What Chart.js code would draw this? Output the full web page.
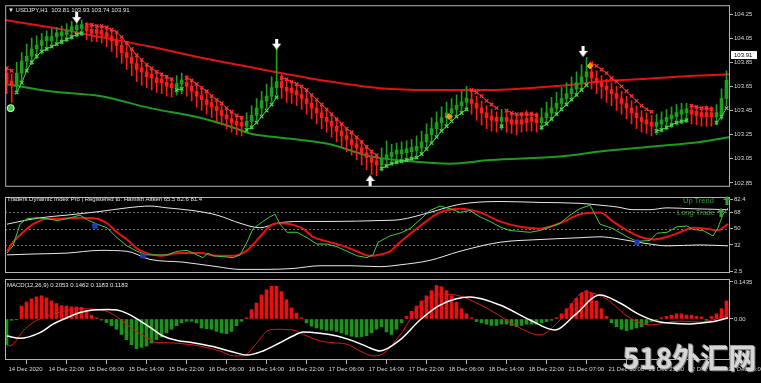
<!DOCTYPE html>
<html>
<head>
<meta charset="utf-8">
<script src="https://cdn.jsdelivr.net/npm/chart.js@4.4.1/dist/chart.umd.min.js"></script>
<style>
    body { margin: 0; width: 761px; height: 383px; background: #000; overflow: hidden; position: relative; font-family: "Liberation Sans", Arial, sans-serif; }
    canvas { position: absolute; left: 0; display: block; }
    .ttl { position: absolute; color: #e6e6e6; font-size: 6px; white-space: pre; line-height: 1; }
    .sig { position: absolute; color: #3a9a3a; font-size: 7.5px; white-space: pre; line-height: 1; }
    .sig svg { position: absolute; left: 40px; top: -1px; }
    .mark { position: absolute; left: 623px; top: 343px; font-family: "Noto Sans CJK SC", sans-serif; font-weight: bold; font-size: 28px; color: #d6d6d6; text-shadow: 1px 1px 0 #777, -1px -1px 0 #999; white-space: pre; line-height: 1; }
</style>
</head>
<body>
<canvas id="priceChart" width="761" height="192" style="top:0"></canvas>
<canvas id="tdiChart" width="761" height="86" style="top:192px"></canvas>
<canvas id="macdChart" width="761" height="105" style="top:278px"></canvas>

<div class="ttl" style="left:8px;top:7px">▼ USDJPY,H1  103.81 103.93 103.74 103.91</div>
<div class="ttl" style="left:7px;top:196px">Traders Dynamic Index Pro | Registered to: Hamish Aitken 65.5 82.6 81.4</div>
<div class="ttl" style="left:7px;top:282px">MACD(12,26,9) 0.2053 0.1462 0.1183 0.1183</div>
<div class="sig" style="left:683px;top:197px">Up Trend<svg width="8" height="9" viewBox="0 0 8 9"><path d="M4 0 L8 4 L5.5 4 L5.5 9 L2.5 9 L2.5 4 L0 4 Z" fill="#3a9a3a"/></svg></div>
<div class="sig" style="left:677px;top:209px">Long Trade<svg width="8" height="9" viewBox="0 0 8 9" style="left:40px"><path d="M4 0 L8 4 L5.5 4 L5.5 9 L2.5 9 L2.5 4 L0 4 Z" fill="#3a9a3a"/></svg></div>
<div class="mark">518外汇网</div>

<script>
// one x label every 8 hourly bars
const xTickLabels = ['14 Dec 2020', '14 Dec 22:00', '15 Dec 06:00', '15 Dec 14:00', '15 Dec 22:00',
    '16 Dec 06:00', '16 Dec 14:00', '16 Dec 22:00', '17 Dec 06:00', '17 Dec 14:00', '17 Dec 22:00',
    '18 Dec 06:00', '18 Dec 14:00', '18 Dec 22:00', '21 Dec 07:00', '21 Dec 15:00', '21 Dec 23:00',
    '22 Dec 07:00', '22 Dec 15:00'];
const barsPerLabel = 8;

const priceTicks = [102.85, 103.05, 103.25, 103.45, 103.65, 103.85, 104.05, 104.25];
const tdiTicks = [2.5, 32, 50, 68, 82.4];
const tdiLevels = [32, 50, 68];
const macdTicks = [0, 0.1435];
const lastPrice = 103.91;

// USDJPY H1 candles
const firstOpen = 103.76;
const closes = [
    103.68, 103.66, 103.76, 103.86, 103.90, 103.96, 103.99, 104.03, 104.03, 104.06,
    104.07, 104.08, 104.11, 104.12, 104.14, 104.13, 104.11, 104.09, 104.10, 104.08,
    104.06, 104.03, 103.99, 103.93, 103.89, 103.84, 103.79, 103.77, 103.73, 103.72,
    103.68, 103.68, 103.65, 103.64, 103.67, 103.68, 103.65, 103.61, 103.57, 103.54,
    103.50, 103.48, 103.45, 103.41, 103.38, 103.35, 103.33, 103.32, 103.36, 103.41,
    103.47, 103.53, 103.57, 103.64, 103.69, 103.64, 103.61, 103.60, 103.58, 103.55,
    103.51, 103.47, 103.43, 103.39, 103.36, 103.32, 103.28, 103.24, 103.21, 103.17,
    103.14, 103.10, 103.06, 103.02, 103.00, 103.05, 103.07, 103.09, 103.09, 103.10,
    103.11, 103.12, 103.14, 103.19, 103.25, 103.30, 103.35, 103.39, 103.43, 103.46,
    103.49, 103.52, 103.54, 103.51, 103.47, 103.43, 103.39, 103.37, 103.36, 103.38,
    103.36, 103.34, 103.34, 103.35, 103.37, 103.36, 103.35, 103.39, 103.43, 103.47,
    103.51, 103.55, 103.59, 103.63, 103.68, 103.73, 103.77, 103.72, 103.68, 103.65,
    103.62, 103.59, 103.55, 103.51, 103.47, 103.43, 103.39, 103.36, 103.34, 103.32,
    103.34, 103.36, 103.38, 103.40, 103.42, 103.43, 103.43, 103.42, 103.41, 103.40,
    103.41, 103.40, 103.41, 103.55, 103.70
];
const highs = [
    103.81, 103.75, 103.85, 103.93, 104.00, 104.05, 104.07, 104.09, 104.11, 104.13,
    104.14, 104.15, 104.17, 104.19, 104.20, 104.20, 104.18, 104.17, 104.16, 104.15,
    104.14, 104.12, 104.09, 104.04, 104.00, 103.95, 103.90, 103.87, 103.83, 103.80,
    103.78, 103.76, 103.74, 103.72, 103.74, 103.76, 103.74, 103.70, 103.66, 103.63,
    103.60, 103.57, 103.54, 103.51, 103.47, 103.44, 103.41, 103.40, 103.43, 103.49,
    103.55, 103.61, 103.67, 103.73, 103.96, 103.75, 103.71, 103.69, 103.67, 103.64,
    103.61, 103.57, 103.53, 103.49, 103.45, 103.41, 103.38, 103.34, 103.30, 103.27,
    103.23, 103.20, 103.16, 103.12, 103.09, 103.14, 103.20, 103.17, 103.18, 103.19,
    103.20, 103.21, 103.24, 103.28, 103.34, 103.39, 103.44, 103.48, 103.52, 103.55,
    103.58, 103.61, 103.65, 103.61, 103.57, 103.53, 103.49, 103.46, 103.44, 103.46,
    103.44, 103.43, 103.42, 103.43, 103.45, 103.44, 103.43, 103.47, 103.52, 103.56,
    103.60, 103.64, 103.68, 103.73, 103.77, 103.83, 103.89, 103.83, 103.78, 103.74,
    103.71, 103.68, 103.65, 103.61, 103.57, 103.53, 103.49, 103.45, 103.43, 103.41,
    103.42, 103.44, 103.46, 103.48, 103.50, 103.51, 103.51, 103.50, 103.49, 103.48,
    103.49, 103.48, 103.50, 103.63, 103.78
];
const lows = [
    103.59, 103.52, 103.61, 103.69, 103.79, 103.83, 103.88, 103.92, 103.95, 103.97,
    103.99, 104.00, 104.02, 104.04, 104.06, 104.07, 104.04, 104.02, 104.02, 104.01,
    103.98, 103.94, 103.89, 103.84, 103.79, 103.74, 103.69, 103.66, 103.64, 103.62,
    103.60, 103.59, 103.57, 103.56, 103.58, 103.59, 103.57, 103.53, 103.48, 103.45,
    103.42, 103.39, 103.36, 103.33, 103.30, 103.27, 103.25, 103.24, 103.27, 103.30,
    103.35, 103.41, 103.47, 103.52, 103.58, 103.55, 103.52, 103.51, 103.49, 103.46,
    103.42, 103.38, 103.34, 103.30, 103.27, 103.23, 103.19, 103.15, 103.11, 103.08,
    103.04, 103.00, 102.96, 102.92, 102.91, 102.95, 102.98, 103.00, 103.01, 103.02,
    103.03, 103.04, 103.05, 103.09, 103.14, 103.19, 103.24, 103.29, 103.33, 103.37,
    103.40, 103.43, 103.45, 103.42, 103.37, 103.33, 103.30, 103.28, 103.27, 103.29,
    103.27, 103.26, 103.25, 103.27, 103.28, 103.28, 103.27, 103.29, 103.33, 103.37,
    103.41, 103.45, 103.49, 103.53, 103.57, 103.62, 103.67, 103.63, 103.59, 103.55,
    103.52, 103.49, 103.45, 103.42, 103.38, 103.34, 103.30, 103.27, 103.26, 103.24,
    103.25, 103.27, 103.29, 103.31, 103.33, 103.34, 103.35, 103.34, 103.33, 103.32,
    103.32, 103.32, 103.33, 103.37, 103.49
];
// trailing stop line with the cross markers (below price in up legs, above in down legs)
const trail = [
    103.80, 103.78, 103.60, 103.68, 103.78, 103.85, 103.90, 103.94, 103.96, 103.98,
    104.00, 104.02, 104.04, 104.06, 104.08, 104.09, 104.16, 104.16, 104.15, 104.15,
    104.14, 104.12, 104.10, 104.06, 104.01, 103.96, 103.91, 103.87, 103.83, 103.80,
    103.77, 103.75, 103.73, 103.71, 103.62, 103.63, 103.72, 103.70, 103.67, 103.64,
    103.61, 103.57, 103.54, 103.51, 103.47, 103.44, 103.41, 103.39, 103.29, 103.31,
    103.35, 103.40, 103.45, 103.50, 103.56, 103.72, 103.71, 103.69, 103.67, 103.65,
    103.62, 103.58, 103.54, 103.50, 103.46, 103.42, 103.38, 103.34, 103.30, 103.27,
    103.23, 103.19, 103.15, 103.11, 103.08, 102.97, 102.99, 103.01, 103.02, 103.03,
    103.04, 103.05, 103.06, 103.09, 103.13, 103.18, 103.23, 103.28, 103.32, 103.36,
    103.40, 103.43, 103.46, 103.62, 103.60, 103.57, 103.53, 103.50, 103.47, 103.32,
    103.45, 103.43, 103.42, 103.42, 103.42, 103.42, 103.41, 103.31, 103.34, 103.38,
    103.42, 103.46, 103.50, 103.54, 103.58, 103.62, 103.66, 103.84, 103.82, 103.79,
    103.76, 103.72, 103.69, 103.65, 103.61, 103.57, 103.53, 103.49, 103.46, 103.44,
    103.28, 103.29, 103.31, 103.33, 103.35, 103.36, 103.37, 103.49, 103.48, 103.47,
    103.47, 103.46, 103.35, 103.40, 103.47
];
// slow moving averages, [bar, price]
const slowRed = [[-0.3, 104.20], [8.7, 104.14], [18.7, 104.06], [28.7, 103.98], [38.7, 103.89],
    [48.7, 103.81], [53.7, 103.77], [64.7, 103.69], [74.7, 103.635], [84.7, 103.62], [96.7, 103.62],
    [110.7, 103.655], [118.7, 103.69], [128.7, 103.715], [138.7, 103.74], [144.7, 103.75]];
const slowGreen = [[-0.3, 103.67], [8.7, 103.61], [18.7, 103.57], [28.7, 103.47], [38.7, 103.39],
    [45.3, 103.31], [48.7, 103.26], [53.7, 103.23], [64.7, 103.17], [72.7, 103.07], [80.7, 103.03],
    [88.7, 103.01], [96.7, 103.04], [110.7, 103.07], [118.7, 103.11], [128.7, 103.15], [138.7, 103.19],
    [144.7, 103.23]];
const sellArrows = [[14, 104.22], [54, 104.00], [115.3, 103.94]];
const buyArrows = [[72.7, 102.87]];
const alertMarks = [[88.5, 103.40], [116.7, 103.82]];
const entryDots = [[0.8, 103.47]];

// Traders Dynamic Index, [bar, value]
const tdiGreen = [[0.1, 23], [1.3, 31], [2.7, 55], [4.1, 61], [6.1, 62], [8.1, 61], [10.1, 59], [12.1, 61],
    [14.7, 65], [16.1, 60], [18.1, 55], [20.1, 51], [22.1, 40], [24.1, 31], [26.1, 25], [28.1, 21], [30.1, 21],
    [32.1, 21], [34.1, 25], [36.1, 26], [38.1, 21], [39.3, 18], [40.3, 23], [41.3, 20], [43.3, 19], [45.3, 18],
    [46.7, 21], [48.1, 35], [49.3, 50], [51.3, 58], [52.7, 63], [53.7, 66], [54.7, 55], [56.1, 46], [58.1, 46],
    [60.1, 40], [62.1, 33], [64.1, 33], [66.1, 30], [68.1, 25], [70.1, 20], [72.1, 18], [73.3, 21], [74.3, 35],
    [76.7, 42], [78.7, 45], [80.7, 50], [82.7, 60], [84.7, 70], [86.7, 75], [88.7, 72], [90.7, 68], [92.7, 70],
    [94.7, 63], [96.7, 58], [98.7, 52], [100.7, 48], [102.7, 47], [104.7, 46], [106.7, 48], [108.7, 52],
    [110.7, 56], [112.7, 65], [114.7, 72], [116.7, 76], [118.7, 55], [121.3, 50], [124.1, 41], [126.1, 36],
    [128.7, 37], [130.1, 45], [132.1, 46], [134.1, 52], [136.1, 53], [137.3, 49], [139.3, 48], [141.3, 42],
    [142.3, 51], [143.3, 66], [144.3, 73]];
const tdiRed = [[0.1, 25], [1.3, 35], [3.3, 46], [5.3, 55], [8.1, 61], [10.7, 61], [14.7, 62], [18.1, 61],
    [20.1, 56], [22.1, 46], [24.1, 38], [26.1, 28], [28.1, 23], [30.7, 20], [34.7, 23], [38.7, 23], [42.1, 20],
    [45.3, 20], [48.1, 26], [50.7, 41], [52.7, 53], [54.1, 56], [56.7, 55], [59.3, 50], [61.3, 41], [64.1, 36],
    [67.3, 31], [70.1, 25], [72.7, 20], [74.3, 21], [76.7, 25], [78.7, 35], [82.7, 53], [86.7, 68], [90.7, 72],
    [94.7, 68], [98.7, 58], [102.7, 52], [106.7, 50], [110.7, 56], [114.7, 66], [118.7, 68], [121.3, 58],
    [124.1, 48], [126.7, 41], [129.3, 38], [132.1, 41], [134.7, 46], [137.3, 51], [140.1, 50], [142.1, 48],
    [144.3, 55]];
const tdiUpper = [[0.1, 55], [2.7, 58], [6.7, 62], [12.1, 65], [18.7, 69], [24.1, 73], [28.7, 75], [32.1, 73],
    [37.3, 70], [42.1, 65], [46.7, 56], [50.7, 51], [54.1, 56], [58.7, 58], [65.3, 58], [74.7, 59], [78.7, 60],
    [84.7, 68], [90.7, 77], [98.7, 80], [106.7, 79], [114.7, 78], [118.7, 76], [122.1, 74], [125.3, 71],
    [128.7, 71], [132.1, 73], [137.3, 72], [144.3, 71]];
const tdiLower = [[0.1, 21], [5.3, 22], [12.1, 23], [18.7, 26], [24.1, 25], [28.7, 16], [35.3, 13], [42.1, 8],
    [46.7, 5], [52.1, 5], [57.3, 6], [62.7, 9], [68.7, 9], [74.7, 8], [78.7, 10], [84.7, 15], [90.7, 25],
    [98.7, 35], [106.7, 38], [114.7, 40], [118.7, 41], [122.1, 39], [125.3, 36], [128.7, 33], [132.1, 31],
    [138.7, 32], [144.3, 31]];
const tdiCrossMarks = [[17.7, 53], [27.3, 20], [126.1, 35]];

// MACD histogram per bar and the two lines
const macdHist = [
    -0.100, -0.005, -0.003, 0.050, 0.066, 0.078, 0.086, 0.090, 0.082, 0.070,
    0.060, 0.052, 0.050, 0.047, 0.047, 0.045, 0.030, 0.015, 0.005, -0.004,
    -0.014, -0.026, -0.040, -0.060, -0.080, -0.100, -0.115, -0.110, -0.105, -0.093,
    -0.080, -0.070, -0.054, -0.040, -0.026, -0.015, -0.009, -0.009, -0.015, -0.035,
    -0.038, -0.040, -0.048, -0.054, -0.057, -0.048, -0.026, -0.009, 0.005, 0.036,
    0.062, 0.093, 0.113, 0.127, 0.127, 0.106, 0.075, 0.043, 0.023, 0.005,
    -0.015, -0.028, -0.035, -0.040, -0.044, -0.044, -0.048, -0.054, -0.060, -0.067,
    -0.070, -0.068, -0.065, -0.054, -0.040, -0.030, -0.050, -0.060, -0.040, -0.015,
    0.010, 0.030, 0.050, 0.070, 0.090, 0.110, 0.130, 0.125, 0.110, 0.090,
    0.065, 0.040, 0.020, 0.005, -0.010, -0.015, -0.020, -0.025, -0.025, -0.020,
    -0.020, -0.025, -0.030, -0.025, -0.020, -0.020, -0.020, -0.015, -0.010, -0.005,
    0.005, 0.020, 0.040, 0.060, 0.080, 0.100, 0.110, 0.100, 0.070, 0.040,
    0.010, -0.015, -0.030, -0.040, -0.045, -0.040, -0.035, -0.030, -0.020, -0.010,
    -0.005, 0.005, 0.010, 0.015, 0.020, 0.020, 0.015, 0.015, 0.010, 0.008,
    -0.005, 0.010, 0.020, 0.040, 0.070
];
const macdWhite = [[0.1, -0.066], [2.7, -0.075], [6.7, -0.053], [9.3, -0.020], [12.1, 0.005], [14.7, 0.025],
    [17.3, 0.035], [20.1, 0.037], [22.1, 0.035], [24.1, 0.022], [26.7, -0.007], [29.3, -0.040], [31.3, -0.066],
    [34.1, -0.083], [37.3, -0.092], [41.3, -0.107], [45.3, -0.128], [48.1, -0.140], [51.3, -0.124],
    [54.7, -0.092], [57.3, -0.066], [59.3, -0.050], [62.7, -0.055], [66.1, -0.066], [69.3, -0.085],
    [72.1, -0.107], [74.7, -0.124], [78.7, -0.081], [82.7, -0.004], [86.7, 0.054], [92.7, 0.085],
    [98.7, 0.054], [104.7, -0.004], [109.7, -0.043], [113.7, 0.016], [118.7, 0.093], [122.7, 0.062],
    [126.7, 0.016], [130.7, -0.012], [136.7, -0.019], [140.7, -0.012], [144.3, 0.004]];
const macdRed = [[0.1, -0.105], [1.3, -0.098], [3.3, -0.047], [5.3, -0.014], [8.1, 0.012], [10.7, 0.027],
    [14.7, 0.040], [18.1, 0.037], [20.1, 0.030], [22.7, 0.000], [25.3, -0.040], [28.1, -0.072], [30.1, -0.092],
    [32.1, -0.092], [36.1, -0.098], [38.7, -0.105], [42.7, -0.124], [45.3, -0.143], [47.3, -0.143],
    [50.1, -0.092], [52.1, -0.047], [54.1, -0.040], [57.3, -0.043], [60.1, -0.066], [62.7, -0.085],
    [65.3, -0.092], [68.1, -0.098], [70.7, -0.124], [73.3, -0.143], [74.7, -0.140], [78.7, -0.062],
    [82.7, 0.054], [86.7, 0.097], [90.7, 0.089], [96.7, 0.035], [102.7, -0.035], [106.7, -0.062],
    [110.7, -0.004], [115.7, 0.105], [119.7, 0.081], [124.7, 0.004], [128.7, -0.023], [134.7, -0.008],
    [138.7, -0.012], [144.3, 0.015]];

const xMin = -0.3, xMax = 144.7;
const axisColor = "#d8d8d8";
const frameColor = "#b4b4b4";

function pts(list) {
    return list.map(p => ({ x: p[0], y: p[1] }));
}

function arrowIcon(color, down) {
    const c = document.createElement("canvas");
    c.width = 9;
    c.height = 11;
    const g = c.getContext("2d");
    g.fillStyle = color;
    g.beginPath();
    if (down) {
        g.moveTo(3, 0); g.lineTo(6, 0); g.lineTo(6, 5); g.lineTo(9, 5); g.lineTo(4.5, 11); g.lineTo(0, 5); g.lineTo(3, 5);
    } else {
        g.moveTo(3, 11); g.lineTo(6, 11); g.lineTo(6, 6); g.lineTo(9, 6); g.lineTo(4.5, 0); g.lineTo(0, 6); g.lineTo(3, 6);
    }
    g.closePath();
    g.fill();
    return c;
}

// frame round each pane, dotted level lines and the current price tag
const paneExtras = {
    id: "paneExtras",
    beforeDatasetsDraw(chart, args, opts) {
        if (!opts.levels) return;
        const { ctx, chartArea: a } = chart;
        const y = chart.scales.y;
        ctx.save();
        ctx.strokeStyle = "#707070";
        ctx.setLineDash([2, 2]);
        ctx.lineWidth = 1;
        opts.levels.forEach(v => {
            const py = Math.round(y.getPixelForValue(v)) + 0.5;
            ctx.beginPath();
            ctx.moveTo(a.left, py);
            ctx.lineTo(a.right, py);
            ctx.stroke();
        });
        ctx.restore();
    },
    afterDraw(chart, args, opts) {
        const { ctx, chartArea: a } = chart;
        ctx.save();
        ctx.strokeStyle = frameColor;
        ctx.lineWidth = 1;
        ctx.strokeRect(a.left + 0.5, a.top + 0.5, a.width - 1, a.height - 1);
        if (opts.tag !== undefined) {
            const py = chart.scales.y.getPixelForValue(opts.tag);
            ctx.fillStyle = "#ffffff";
            ctx.fillRect(a.right + 1, py - 4, 26, 8);
            ctx.fillStyle = "#000000";
            ctx.font = '6px "Liberation Sans", Arial, sans-serif';
            ctx.textBaseline = "middle";
            ctx.fillText(opts.tag.toFixed(2), a.right + 4, py);
        }
        ctx.restore();
    }
};

function rightAxis(min, max, ticks, fmt) {
    return {
        position: "right",
        min: min,
        max: max,
        bounds: "data",
        afterBuildTicks: s => { s.ticks = ticks.map(v => ({ value: v })); },
        afterFit: s => { s.width = 31; s.paddingTop = 0; s.paddingBottom = 0; },
        ticks: { color: axisColor, padding: 1, autoSkip: false, font: { size: 6 }, callback: fmt },
        grid: { drawOnChartArea: false, color: frameColor, tickLength: 3 },
        border: { display: false }
    };
}

function hiddenX() {
    return { type: "linear", min: xMin, max: xMax, bounds: "data", offset: false, display: false };
}

const baseOptions = {
    responsive: false,
    animation: false,
    events: [],
    devicePixelRatio: 1,
    plugins: { legend: { display: false }, tooltip: { enabled: false } }
};

Chart.defaults.font.family = '"Liberation Sans", Arial, sans-serif';

const isUp = i => trail[i] < closes[i];
const upCol = "#1e9e1e", downCol = "#ff1a1a";

new Chart(document.getElementById("priceChart"), {
    type: "bar",
    data: {
        datasets: [
            {
                type: "line", data: pts(entryDots), showLine: false, order: 0,
                pointStyle: "circle", pointRadius: 3.5, pointBackgroundColor: "#3cc43c", pointBorderColor: "#dfffdf", pointBorderWidth: 1
            },
            {
                type: "line", data: pts(sellArrows), showLine: false, order: 0,
                pointStyle: arrowIcon("#ffffff", true)
            },
            {
                type: "line", data: pts(buyArrows), showLine: false, order: 0,
                pointStyle: arrowIcon("#ffffff", false)
            },
            {
                type: "line", data: pts(alertMarks), showLine: false, order: 0,
                pointStyle: "rectRot", pointRadius: 3, pointBackgroundColor: "#ff9a00", pointBorderColor: "#ff9a00"
            },
            {
                type: "line", data: trail.map((v, i) => ({ x: i, y: v })), order: 1,
                borderWidth: 1, pointStyle: "crossRot", pointRadius: 2.5, pointBorderWidth: 1.2,
                pointBorderColor: c => isUp(c.dataIndex) ? "#4cd64c" : "#ff3030",
                segment: {
                    borderColor: c => isUp(c.p0DataIndex) !== isUp(c.p1DataIndex) ? "rgba(0,0,0,0)"
                        : (isUp(c.p0DataIndex) ? "#4cd64c" : "#ff3030")
                }
            },
            {
                data: closes.map((c, i) => ({ x: i, y: [i ? closes[i - 1] : firstOpen, c] })),
                order: 2, grouped: false, barThickness: 3, minBarLength: 4,
                backgroundColor: c => isUp(c.dataIndex) ? upCol : downCol
            },
            {
                data: closes.map((c, i) => ({ x: i, y: [lows[i], highs[i]] })),
                order: 3, grouped: false, barThickness: 1,
                backgroundColor: c => isUp(c.dataIndex) ? upCol : downCol
            },
            {
                type: "line", data: pts(slowRed), order: 4, borderColor: "#e31212", borderWidth: 2,
                pointRadius: 0, cubicInterpolationMode: "monotone"
            },
            {
                type: "line", data: pts(slowGreen), order: 4, borderColor: "#1c9c1c", borderWidth: 2,
                pointRadius: 0, cubicInterpolationMode: "monotone"
            }
        ]
    },
    options: {
        ...baseOptions,
        layout: { padding: { left: 5, top: 5, right: 0, bottom: 1 } },
        scales: {
            x: hiddenX(),
            y: rightAxis(102.818, 104.323, priceTicks, v => v.toFixed(2))
        },
        plugins: { ...baseOptions.plugins, paneExtras: { tag: lastPrice } }
    },
    plugins: [paneExtras]
});

new Chart(document.getElementById("tdiChart"), {
    type: "line",
    data: {
        datasets: [
            {
                data: pts(tdiCrossMarks), showLine: false, order: -1,
                pointStyle: "rect", pointRadius: 3, pointBackgroundColor: "#1f35b0", pointBorderColor: "#2a44d0"
            },
            { data: pts(tdiGreen), order: 0, borderColor: "#3ccc3c", borderWidth: 1, pointRadius: 0 },
            { data: pts(tdiRed), order: 1, borderColor: "#ee1010", borderWidth: 2, pointRadius: 0, cubicInterpolationMode: "monotone" },
            { data: pts(tdiUpper), order: 2, borderColor: "#e8e8e8", borderWidth: 1, pointRadius: 0, cubicInterpolationMode: "monotone" },
            { data: pts(tdiLower), order: 2, borderColor: "#e8e8e8", borderWidth: 1, pointRadius: 0, cubicInterpolationMode: "monotone" }
        ]
    },
    options: {
        ...baseOptions,
        layout: { padding: { left: 5, top: 1, right: 0, bottom: 1 } },
        scales: {
            x: hiddenX(),
            y: rightAxis(1, 85, tdiTicks, v => String(v))
        },
        plugins: { ...baseOptions.plugins, paneExtras: { levels: tdiLevels } }
    },
    plugins: [paneExtras]
});

new Chart(document.getElementById("macdChart"), {
    type: "bar",
    data: {
        datasets: [
            {
                type: "line", data: pts(macdWhite), order: 0, borderColor: "#ffffff", borderWidth: 1.5,
                pointRadius: 0, cubicInterpolationMode: "monotone"
            },
            {
                type: "line", data: pts(macdRed), order: 1, borderColor: "#e01818", borderWidth: 1,
                pointRadius: 0, cubicInterpolationMode: "monotone"
            },
            {
                data: macdHist.map((v, i) => ({ x: i, y: v })), order: 2, barThickness: 3, grouped: false,
                backgroundColor: c => (macdHist[c.dataIndex] >= 0 ? "#e81010" : "#1f8f1f")
            }
        ]
    },
    options: {
        ...baseOptions,
        layout: { padding: { left: 5, top: 1, right: 0, bottom: 0 } },
        scales: {
            x: {
                type: "linear", position: "bottom", min: xMin, max: xMax, bounds: "data", offset: false,
                afterBuildTicks: s => { s.ticks = xTickLabels.map((_, k) => ({ value: k * barsPerLabel })); },
                afterFit: s => { s.height = 23; s.paddingLeft = 0; s.paddingRight = 0; },
                ticks: {
                    color: axisColor, autoSkip: false, maxRotation: 0, align: "start", padding: 2, labelOffset: 2,
                    font: { size: 6 }, callback: v => xTickLabels[Math.round(v / barsPerLabel)]
                },
                grid: { drawOnChartArea: false, color: frameColor, tickLength: 4 },
                border: { display: false }
            },
            y: rightAxis(-0.159, 0.1551, macdTicks, v => (v === 0 ? "0.00" : v.toFixed(4)))
        },
        plugins: { ...baseOptions.plugins, paneExtras: {} }
    },
    plugins: [paneExtras]
});
</script>
</body>
</html>
